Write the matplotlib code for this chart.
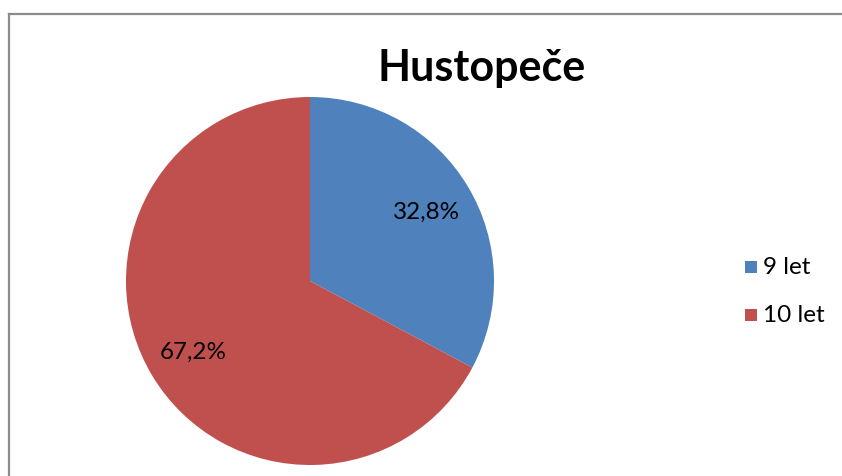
import matplotlib
matplotlib.use("Agg")
import matplotlib.pyplot as plt
from matplotlib.lines import Line2D
from matplotlib.patches import Rectangle

title = "Hustopeče"
categories = ["9 let", "10 let"]
values = [32.8, 67.2]
colors = ["#4F81BD", "#C0504D"]

W, H = 842, 477
fig = plt.figure(figsize=(W / 100, H / 100), dpi=100)
fig.patch.set_facecolor("white")

# chart frame (left and top edges visible)
fig.add_artist(Line2D([8.5 / W, 8.5 / W], [0, 1 - 14.5 / H], transform=fig.transFigure,
                      color="#8c8c8c", lw=1.6))
fig.add_artist(Line2D([8.5 / W, 1], [1 - 14.5 / H, 1 - 14.5 / H], transform=fig.transFigure,
                      color="#8c8c8c", lw=1.6))

# pie centred at (310, 282) px with radius 184 px
cx, cy, r = 310, H - 282, 184
ax = fig.add_axes([(cx - r) / W, (cy - r) / H, 2 * r / W, 2 * r / H])
wedges, texts, autotexts = ax.pie(
    values, colors=colors, startangle=90, counterclock=False, radius=1,
    autopct=lambda p: f"{p:.1f}%".replace(".", ","), pctdistance=0.74,
    textprops=dict(fontsize=17.5, family="Lato", color="black"),
    wedgeprops=dict(linewidth=0))
ax.set_xlim(-1, 1)
ax.set_ylim(-1, 1)
ax.set_aspect("equal")
ax.axis("off")

fig.text(482 / W, 1 - 68 / H, title, ha="center", va="center",
         fontsize=31, fontweight="bold", family="Lato")

# legend
for i, (lab, col) in enumerate(zip(categories, colors)):
    ycen = 268 + i * 48
    fig.add_artist(Rectangle((745 / W, 1 - (ycen + 6) / H), 12 / W, 12 / H,
                             transform=fig.transFigure, facecolor=col, edgecolor="none"))
    fig.text(763 / W, 1 - ycen / H, lab, ha="left", va="center",
             fontsize=17.5, family="Lato")

fig.savefig("out.png", dpi=100)
